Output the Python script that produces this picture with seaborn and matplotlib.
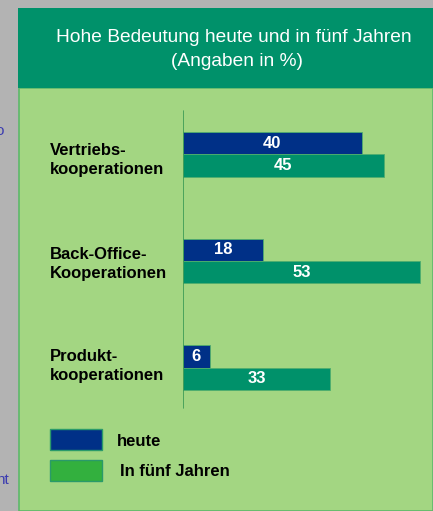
import numpy as np
import pandas as pd
import seaborn as sns
import matplotlib.pyplot as plt
from matplotlib.patches import Rectangle

# data
categories = ["Vertriebs-\nkooperationen", "Back-Office-\nKooperationen", "Produkt-\nkooperationen"]
heute = [40, 18, 6]
in_fuenf_jahren = [45, 53, 33]
series = ["heute", "In fünf Jahren"]

title_1 = "Hohe Bedeutung heute und in fünf Jahren"
title_2 = "(Angaben in %)"

gray = "#b3b3b3"
panel = "#a3d682"
dark_green = "#00916a"
blue = "#003087"
legend_green = "#33b03e"

sns.set_style("white")
plt.rcParams["font.family"] = ["Liberation Sans", "DejaVu Sans"]
plt.rcParams["text.color"] = "black"

W, H = 433, 511
fig = plt.figure(figsize=(W / 100, H / 100), dpi=100, facecolor=gray)


def fx(px):
    return px / W


def fy(py):
    return 1 - py / H


# panel body and header
fig.patches.append(Rectangle((fx(19), 0), fx(W - 19), fy(88), transform=fig.transFigure,
                             facecolor=panel, edgecolor="#5db86a", lw=1.2, zorder=0))
fig.patches.append(Rectangle((fx(18), fy(88)), fx(W - 18), fy(8) - fy(88), transform=fig.transFigure,
                             facecolor=dark_green, edgecolor="none", zorder=1))
fig.text(fx(234), fy(37), title_1, color="white", fontsize=13.8, ha="center", va="center")
fig.text(fx(237), fy(62), title_2, color="white", fontsize=13.8, ha="center", va="center")

# cut-off fragments at left edge
fig.text(fx(4), fy(131), "o", color="#3b3bb0", fontsize=11, ha="right", va="center")
fig.text(fx(9), fy(480), "nt", color="#3b3bb0", fontsize=11, ha="right", va="center")

df = pd.DataFrame({
    "cat": categories * 2,
    "val": heute + in_fuenf_jahren,
    "series": [series[0]] * 3 + [series[1]] * 3,
})

ax = fig.add_axes([fx(183), fy(421), fx(W - 183), fy(101) - fy(421)])
ax.set_zorder(5)
ax.set_facecolor("none")
sns.barplot(data=df, y="cat", x="val", hue="series", orient="h", dodge=True,
            palette=[blue, dark_green], saturation=1, width=0.42, ax=ax, legend=False,
            edgecolor="#4fae6e", linewidth=0.6)
ax.set_xlim(0, 56)
ax.set_ylim(2.5, -0.5)
for c in ax.containers:
    ax.bar_label(c, label_type="center", color="white", fontweight="bold", fontsize=12)
for s in ax.spines.values():
    s.set_visible(False)
ax.axvline(0, ymin=(421 - 408) / 320, ymax=(421 - 111) / 320, color="#3c9a55", lw=1.2)
ax.set_xticks([])
ax.set_yticks([])
ax.set_xlabel("")
ax.set_ylabel("")

# category labels
centers = [160, 264, 366]
for lab, cy in zip(categories, centers):
    fig.text(fx(50), fy(cy), lab, fontsize=12, fontweight="bold", color="black",
             ha="left", va="center", linespacing=1.4)

# legend
fig.patches.append(Rectangle((fx(50), fy(450)), fx(52), fy(429) - fy(450), transform=fig.transFigure,
                             facecolor=blue, edgecolor="#2a9a6a", lw=1, zorder=2))
fig.patches.append(Rectangle((fx(50), fy(481)), fx(52), fy(460) - fy(481), transform=fig.transFigure,
                             facecolor=legend_green, edgecolor="#2a9a6a", lw=1, zorder=2))
fig.text(fx(117), fy(442), series[0], fontsize=12, fontweight="bold", color="black",
         ha="left", va="center")
fig.text(fx(120), fy(472), series[1], fontsize=12, fontweight="bold", color="black",
         ha="left", va="center")

fig.savefig("out.png", dpi=100, facecolor=gray)
